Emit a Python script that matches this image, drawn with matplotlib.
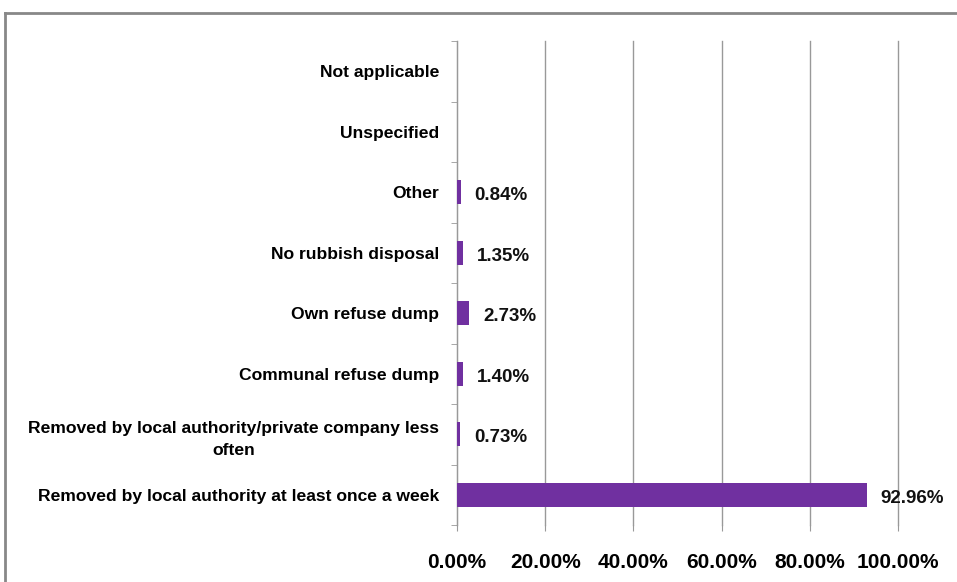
import matplotlib.pyplot as plt
from matplotlib.lines import Line2D

plt.rcParams['font.family'] = ['Liberation Sans Narrow', 'Liberation Sans', 'DejaVu Sans']
plt.rcParams['font.weight'] = 'bold'

# refuse removal categories, top to bottom
categories = ['Not applicable',
              'Unspecified',
              'Other',
              'No rubbish disposal',
              'Own refuse dump',
              'Communal refuse dump',
              'Removed by local authority/private company less\noften',
              'Removed by local authority at least once a week']
shares = [0.0, 0.0, 0.84, 1.35, 2.73, 1.40, 0.73, 92.96]
xticks = [0, 20, 40, 60, 80, 100]

W, H = 957, 582
fig = plt.figure(figsize=(W / 100, H / 100), dpi=100)
ax = fig.add_axes([457 / W, 1 - 525 / H, (898 - 457) / W, (525 - 41) / H])

ypos = list(range(len(categories)))[::-1]
ax.barh(ypos, shares, height=0.4, color='#7030A0', linewidth=0, zorder=3)

for y, v in zip(ypos, shares):
    if v > 0:
        ax.annotate(f'{v:.2f}%', xy=(v, y), xytext=(10, -2.5),
                    textcoords='offset points', va='center', ha='left',
                    fontsize=13.5, fontweight='bold', color='#111111')

ax.set_xlim(0, 100)
ax.set_ylim(-0.5, len(categories) - 0.5)
ax.set_xticks(xticks)
ax.set_xticklabels([f'{t:.2f}%' for t in xticks], fontsize=15, fontweight='bold')
ax.set_yticks(ypos)
ax.set_yticklabels(categories, fontsize=12.6, fontweight='bold',
                   multialignment='center', linespacing=1.6)
ax.tick_params(axis='y', length=0, pad=13)
ax.tick_params(axis='x', length=4, color='#999999', pad=16)

# category boundary ticks on the y axis
ax.set_yticks([i - 0.5 for i in range(len(categories) + 1)], minor=True)
ax.tick_params(axis='y', which='minor', length=4, color='#999999')

ax.grid(axis='x', color='#999999', linewidth=1, zorder=0)
for line in ax.get_xgridlines():
    line.set_clip_on(False)
for s in ['top', 'right', 'bottom']:
    ax.spines[s].set_visible(False)
ax.spines['left'].set_color('#999999')

# outer chart border (runs off the right and bottom edges)
fig.add_artist(Line2D([5 / W, 1.0], [1 - 13 / H, 1 - 13 / H],
                      transform=fig.transFigure, color='#888888', linewidth=2))
fig.add_artist(Line2D([5 / W, 5 / W], [0.0, 1 - 13 / H],
                      transform=fig.transFigure, color='#888888', linewidth=2))

fig.savefig('out.png', dpi=100, facecolor='white')
